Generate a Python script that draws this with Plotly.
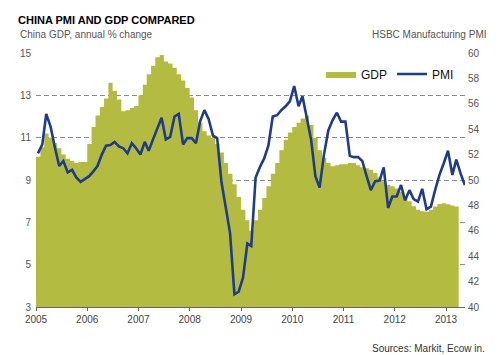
import pandas as pd
import plotly.graph_objects as go

# ---- data ----
gdp_start = "2005-01-01"
gdp = [
    10.1, 10.55, 11.2, 11.0, 10.75, 10.5, 10.2, 10.0, 9.9, 9.8, 9.85, 9.85,      # 2005
    10.7, 11.5, 12.05, 12.45, 12.85, 13.6, 13.2, 12.8, 12.25, 12.3, 12.4, 12.5,  # 2006
    13.0, 13.5, 14.0, 14.4, 14.8, 14.9, 14.6, 14.5, 14.3, 14.0, 13.7, 13.35,     # 2007
    12.9, 12.3, 11.7, 11.3, 11.1, 11.0, 10.7, 10.3, 9.8, 9.3, 8.8, 8.2,          # 2008
    7.6, 7.1, 6.6, 7.1, 7.6, 8.15, 8.7, 9.3, 9.8, 10.4, 10.9, 11.25,             # 2009
    11.5, 11.7, 11.9, 12.05, 11.6, 11.0, 10.4, 10.05, 9.8, 9.65, 9.7, 9.75,      # 2010
    9.75, 9.8, 9.8, 9.7, 9.6, 9.55, 9.49, 9.33, 9.13, 8.94, 8.78, 8.7,           # 2011
    8.6, 8.45, 8.23, 8.0, 7.76, 7.6, 7.52, 7.5, 7.6, 7.75, 7.87, 7.9,            # 2012
    7.85, 7.8, 7.75, 7.75,                                                       # 2013
]
pmi = [
    52.1, 52.8, 55.2, 54.2, 52.6, 51.1, 51.5, 50.6, 50.8, 50.2, 49.85, 50.1,     # 2005
    50.3, 50.7, 51.1, 52.0, 52.7, 52.75, 53.0, 52.65, 52.5, 52.1, 52.9, 52.5,    # 2006
    52.0, 53.0, 52.3, 53.2, 54.1, 54.9, 53.2, 53.4, 55.0, 55.2, 52.8, 53.3,      # 2007
    53.3, 52.9, 54.6, 55.5, 54.8, 53.5, 53.3, 49.8, 47.8, 45.8, 41.0, 41.2,      # 2008
    42.3, 45.0, 44.8, 50.2, 51.0, 51.7, 52.7, 55.0, 55.1, 55.5, 55.8, 56.2,      # 2009
    57.4, 55.8, 56.6, 55.0, 53.2, 50.3, 49.4, 52.0, 53.9, 54.7, 55.3, 54.6,      # 2010
    54.6, 51.9, 51.8, 51.8, 51.5, 50.3, 49.2, 49.9, 49.95, 51.0, 47.8, 48.7,     # 2011
    48.7, 49.6, 48.4, 49.2, 48.5, 48.3, 49.3, 47.7, 47.9, 49.2, 50.4, 51.3,      # 2012
    52.3, 50.4, 51.6, 50.5, 49.6,                                                # 2013
]
year_ticks = [str(y) for y in range(2005, 2014)]
gdp_ticks = [3, 5, 7, 9, 11, 13, 15]
pmi_ticks = list(range(40, 61, 2))

gdp_dates = pd.date_range(gdp_start, periods=len(gdp), freq="MS")
pmi_dates = pd.date_range(gdp_start, periods=len(pmi), freq="MS") + pd.Timedelta(days=14)

# ---- layout geometry (pixels) ----
W, H = 500, 355
L, R, T, B = 28, 457, 45, 299


def px(x):
    return (x - L) / (R - L)


def py(y):
    return (B - y) / (B - T)


FONT = "Liberation Sans, Arial, sans-serif"
GDP_COL = "#b4bb41"
PMI_COL = "#1f3c8c"

fig = go.Figure()
fig.add_trace(go.Scatter(
    x=gdp_dates, y=gdp, name="GDP", mode="lines",
    line=dict(width=0, shape="hv", color=GDP_COL),
    fill="tozeroy", fillcolor=GDP_COL, yaxis="y",
))
fig.add_trace(go.Scatter(
    x=pmi_dates, y=pmi, name="PMI", mode="lines",
    line=dict(width=2.6, color=PMI_COL), yaxis="y2",
))

fig.update_layout(
    width=W, height=H,
    margin=dict(l=L, r=W - R, t=T, b=H - B),
    paper_bgcolor="white", plot_bgcolor="white",
    font=dict(family=FONT, size=10, color="#444"),
    showlegend=True,
    legend=dict(orientation="h", x=px(313), y=py(66), xanchor="left", yanchor="middle",
                font=dict(size=12, color="#111"), bgcolor="rgba(0,0,0,0)",
                itemwidth=30, tracegroupgap=0),
    xaxis=dict(
        type="date", range=["2005-01-01", "2013-05-16"],
        tick0="2005-01-01", dtick="M12", tickformat="%Y",
        showgrid=False, showline=True, linecolor="#666", linewidth=1,
        ticks="outside", ticklen=3, tickcolor="#666",
        tickfont=dict(size=10, color="#444"), zeroline=False,
    ),
    yaxis=dict(
        range=[3, 15], tickvals=gdp_ticks, ticktext=[str(v) for v in gdp_ticks],
        showgrid=True, gridcolor="#8c8c8c", gridwidth=1, griddash="5px,3px",
        zeroline=False, showline=False, ticks="", ticklabelstandoff=4,
        tickfont=dict(size=10, color="#555"),
    ),
    yaxis2=dict(
        range=[40, 60], tickvals=pmi_ticks, ticktext=[str(v) for v in pmi_ticks],
        overlaying="y", side="right", showgrid=False, zeroline=False,
        showline=False, ticks="", ticklabelstandoff=2,
        tickfont=dict(size=10, color="#555"),
    ),
)

annots = [
    dict(text="<b>CHINA PMI AND GDP COMPARED</b>", x=px(8), y=py(12), xanchor="left",
         yanchor="middle", font=dict(size=11, color="#000")),
    dict(text="China GDP, annual % change", x=px(10), y=py(27), xanchor="left",
         yanchor="middle", font=dict(size=10, color="#555")),
    dict(text="HSBC Manufacturing PMI", x=px(481), y=py(27), xanchor="right",
         yanchor="middle", font=dict(size=10, color="#555")),
    dict(text="Sources: Markit, Ecow in.", x=px(479), y=py(340), xanchor="right",
         yanchor="middle", font=dict(size=10, color="#333")),
]
for a in annots:
    fig.add_annotation(xref="paper", yref="paper", showarrow=False, **a)

fig.write_html("out.html")
